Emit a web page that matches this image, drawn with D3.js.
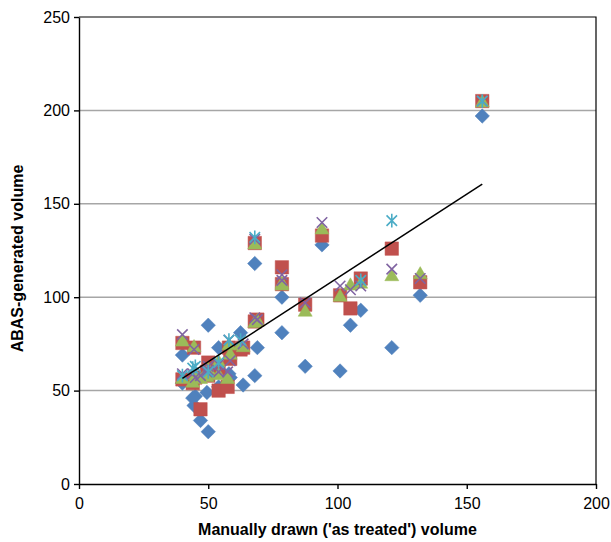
<!DOCTYPE html>
<html>
<head>
<meta charset="utf-8">
<script src="https://cdn.jsdelivr.net/npm/d3@7"></script>
<style>
  body { margin: 0; background: #fff; }
  svg { font-family: Lato, "Liberation Sans", sans-serif; }
  .axis text { font-size: 16px; fill: #000; }
  .axis path, .axis line { stroke: #000; }
  .label { font-size: 16.5px; font-weight: bold; fill: #000; text-anchor: middle; }
</style>
</head>
<body>
<svg width="611" height="542"></svg>
<script>
// manually drawn ('as treated') volume, one entry per patient
var manualVol = [156, 132, 121, 109, 105, 101, 94, 87.5, 78.5, 78.5, 69, 68, 68, 63.5, 62.5,
                 58, 58.5, 54, 54, 57.5, 50, 50, 49.5, 47, 45, 44.5, 44, 40, 40];
// ABAS-generated volumes, one array per series (null = no marker)
var seriesBlue   = [197, 101, 73, 93, 85, 60.5, 128, 63, 100, 81, 73, 118, 58, 53, 81,
                    59, 57, 73, 52, null, 85, 28, 49, 34, 47, 42, 46, 69, 54];
var seriesRed    = [205, 108, 126, 110, 94, 101, 133, 96, 116, 107, 88, 129, 87, 73, 72,
                    73, 67, 62, 50, 52, 65, 58, 60, 40, 57, 73, 54, 75.5, 56];
var seriesGreen  = [205, 113, 112, 108, 107, 101, 137, 93, 108, 107, 88, 129, 87, 74, 75,
                    75, 70, 66, 59, 57, 62, 60, 58, 57, 59, 74, 55, 77, 57];
var seriesPurple = [205, 110, 115, 106, 104, 106, 140, 97, 112, 109, 88, 131, 89, 75, 77,
                    77, 66, 64, 60, 60, 63, 61, 60, 58, 57, 72, 59, 80, 59];
var seriesCyan   = [205, null, 141, 109, null, null, null, null, null, null, null, 132, null, null, 77,
                    77, null, 65, null, null, null, 60, null, null, 63, null, 62, null, 58];

// linear trendline
var trendSlope = 0.897;
var trendIntercept = 20.6;

var xTicks = [0, 50, 100, 150, 200];
var yTicks = [0, 50, 100, 150, 200, 250];

var colors = ["#4F81BD", "#C0504D", "#9BBB59", "#8064A2", "#4BACC6"];

var symX = {
  draw: function(ctx, size) {
    var r = Math.sqrt(size) / 2;
    ctx.moveTo(-r, -r); ctx.lineTo(r, r);
    ctx.moveTo(-r, r); ctx.lineTo(r, -r);
  }
};
var symStar = {
  draw: function(ctx, size) {
    var r = Math.sqrt(size) / 2;
    ctx.moveTo(-r, -r); ctx.lineTo(r, r);
    ctx.moveTo(-r, r); ctx.lineTo(r, -r);
    ctx.moveTo(0, -r * 1.3); ctx.lineTo(0, r * 1.3);
  }
};
var symTri = {
  draw: function(ctx, size) {
    var w = Math.sqrt(size) / 2;
    ctx.moveTo(0, -w * 0.9);
    ctx.lineTo(w, w * 0.85);
    ctx.lineTo(-w, w * 0.85);
    ctx.closePath();
  }
};

function createPlot() {
  var pArea = [79, 17, 596, 484];

  var xScale = d3.scaleLinear().domain([0, 200]).range([pArea[0], pArea[2]]);
  var yScale = d3.scaleLinear().domain([0, 250]).range([pArea[3], pArea[1]]);

  var svg = d3.select("svg");
  var g = svg.append("g");

  // gridlines
  g.selectAll(".grid")
    .data(yTicks.filter(d => d > 0 && d < 250))
    .enter().append("line")
    .attr("x1", pArea[0]).attr("x2", pArea[2])
    .attr("y1", d => yScale(d)).attr("y2", d => yScale(d))
    .attr("stroke", "#A6A6A6")
    .attr("stroke-width", 1.5);

  // plot area border
  g.append("path")
    .attr("d", `M${pArea[0]},${pArea[1]}H${pArea[2]}V${pArea[3]}`)
    .attr("fill", "none")
    .attr("stroke", "#000")
    .attr("stroke-width", 1.2);

  // x-axis
  g.append("g")
    .attr("class", "axis axis--x")
    .attr("transform", `translate(0,${pArea[3]})`)
    .call(d3.axisBottom(xScale).tickValues(xTicks).tickSize(5).tickPadding(9).tickSizeOuter(0))
    .call(a => a.selectAll("path, line").attr("stroke-width", 1.4))
    .append("text")
      .attr("class", "label")
      .attr("x", (pArea[0] + pArea[2]) / 2)
      .attr("y", 51)
      .text("Manually drawn ('as treated') volume");

  // y-axis
  g.append("g")
    .attr("class", "axis axis--y")
    .attr("transform", `translate(${pArea[0]},0)`)
    .call(d3.axisLeft(yScale).tickValues(yTicks).tickSize(5).tickPadding(4).tickSizeOuter(0))
    .call(a => a.selectAll("path, line").attr("stroke-width", 1.4))
    .append("text")
      .attr("class", "label")
      .attr("transform", "rotate(-90)")
      .attr("x", -(pArea[1] + pArea[3]) / 2 - 8)
      .attr("y", -56)
      .text("ABAS-generated volume");

  var series = [
    { vals: seriesBlue, type: d3.symbolSquare, size: 104, rot: 45, fill: true },
    { vals: seriesRed, type: d3.symbolSquare, size: 180, rot: 0, fill: true },
    { vals: seriesGreen, type: symTri, size: 196, rot: 0, fill: true },
    { vals: seriesPurple, type: symX, size: 110, rot: 0, fill: false },
    { vals: seriesCyan, type: symStar, size: 110, rot: 0, fill: false }
  ];

  series.forEach(function(s, i) {
    var pts = manualVol.map((x, j) => [x, s.vals[j]]).filter(d => d[1] != null);
    g.append("g").selectAll("path")
      .data(pts)
      .enter().append("path")
      .attr("d", d3.symbol().type(s.type).size(s.size))
      .attr("transform", d => `translate(${xScale(d[0])},${yScale(d[1])}) rotate(${s.rot})`)
      .attr("fill", s.fill ? colors[i] : "none")
      .attr("stroke", colors[i])
      .attr("stroke-width", s.fill ? 0.5 : 1.6);
  });

  // trendline over the data range
  var xMin = d3.min(manualVol), xMax = d3.max(manualVol);
  g.append("line")
    .attr("x1", xScale(xMin)).attr("y1", yScale(trendSlope * xMin + trendIntercept))
    .attr("x2", xScale(xMax)).attr("y2", yScale(trendSlope * xMax + trendIntercept))
    .attr("stroke", "#000")
    .attr("stroke-width", 1.5);
}

createPlot();
</script>
</body>
</html>
